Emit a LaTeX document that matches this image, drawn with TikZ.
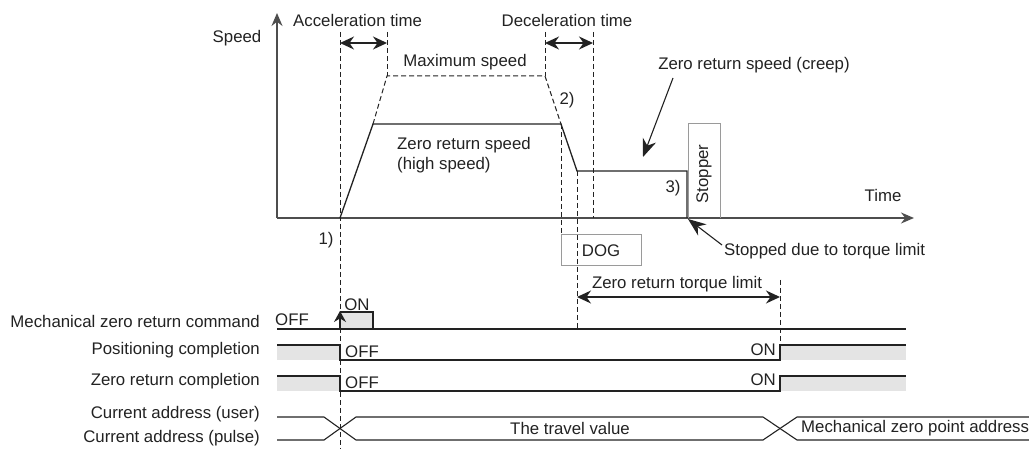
\documentclass[tikz,border=0pt]{standalone}
\usepackage{fontspec}
\setmainfont{Liberation Sans}
\usetikzlibrary{arrows.meta}
\definecolor{ink}{HTML}{222222}
\definecolor{boxgray}{HTML}{9A9A9A}
\definecolor{fillgray}{HTML}{E4E4E4}
\begin{document}
\begin{tikzpicture}[x=1pt,y=-1pt,
  lbl/.style={font=\fontsize{16.8}{20.5}\selectfont, text=ink, inner sep=0pt},
  sig/.style={draw=ink, line width=1.3pt},
  axisline/.style={draw=ink!80, line width=1.3pt, -{Stealth[length=13pt,width=11pt]}},
  guide/.style={draw=ink, dash pattern=on 5pt off 3pt, line width=1pt},
  dim/.style={draw=ink, line width=1.3pt, {Stealth[length=14pt,width=13pt]}-{Stealth[length=14pt,width=13pt]}},
  pointer/.style={draw=ink, line width=1.1pt, -{Stealth[length=18pt,width=14pt]}},
  gbox/.style={draw=boxgray, line width=1pt},
  gfill/.style={fill=fillgray},
]
\useasboundingbox (0,0) rectangle (1029,449);

% ---------- axes ----------
\coordinate (O) at (277,218);
\coordinate (Ytip) at (277,13);
\coordinate (Xtip) at (914,218);
\draw[axisline] (O) -- (Ytip);
\draw[axisline] (O) -- (Xtip);
\node[lbl] (speed) at (237,38) {Speed};
\node[lbl] (time) at (883,195) {Time};

% ---------- guide lines ----------
\coordinate (a1t) at (340,32);  \coordinate (a1b) at (340,449);
\coordinate (a2t) at (387,32);  \coordinate (a2b) at (387,76);
\coordinate (d1t) at (545,32);  \coordinate (d1b) at (545,76);
\coordinate (d2t) at (593,32);  \coordinate (d2b) at (593,218);
\coordinate (h2) at (561,124);  \coordinate (h2b) at (561,235);
\coordinate (c1) at (577,171);  \coordinate (c1b) at (577,329);
\coordinate (z1) at (780,280);  \coordinate (z1b) at (780,360);
\draw[guide] (a1t) -- (a1b);
\draw[guide] (a2t) -- (a2b);
\draw[guide] (d1t) -- (d1b);
\draw[guide] (d2t) -- (d2b);
\draw[guide] (h2) -- (h2b);
\draw[guide] (c1) -- (c1b);
\draw[guide] (z1) -- (z1b);

% ---------- time spans ----------
\node[lbl, anchor=west] (acct) at (293,20) {Acceleration time};
\node[lbl] (dect) at (567,20) {Deceleration time};
\coordinate (acc1) at (340,43); \coordinate (acc2) at (387,43);
\coordinate (dec1) at (545,43); \coordinate (dec2) at (593,43);
\draw[dim] (acc1) -- (acc2);
\draw[dim] (dec1) -- (dec2);

% ---------- maximum speed (dashed) ----------
\coordinate (m0) at (373,124);
\draw[guide] (m0) -- (a2b) -- (d1b) -- (h2);
\node[lbl] (maxs) at (465,62) {Maximum speed};

% ---------- speed profile ----------
\coordinate (p0) at (340,218);
\coordinate (p3) at (687,171);
\coordinate (p4) at (687,218);
\draw[sig] (p0) -- (m0) -- (h2) -- (c1) -- (p3) -- (p4);
\node[lbl, anchor=west, align=left] (hs) at (397,155) {Zero return speed\\(high speed)};
\node[lbl] (n1) at (326,240) {1)};
\node[lbl] (n2) at (567,100) {2)};
\node[lbl] (n3) at (673,188) {3)};

% ---------- DOG and stopper ----------
\node[gbox, lbl, minimum width=80pt, minimum height=31pt] (dog) at (601,250.5) {DOG};
\draw[gbox] (688,218) -- (688,124) -- (720,124) -- (720,218);
\node[lbl, rotate=90] (stopper) at (704,174) {Stopper};

% ---------- callouts ----------
\node[lbl] (creep) at (754,65) {Zero return speed (creep)};
\coordinate (creeptail) at (673,78);
\coordinate (creeptip) at (643,157);
\draw[pointer] (creeptail) -- (creeptip);
\node[lbl, anchor=west] (stopped) at (724,251) {Stopped due to torque limit};
\coordinate (stoptail) at (722,245);
\coordinate (stoptip) at (688,219);
\draw[pointer] (stoptail) -- (stoptip);

% ---------- torque limit ----------
\coordinate (tl1) at (577,297); \coordinate (tl2) at (780,297);
\draw[dim] (tl1) -- (tl2);
\node[lbl] (tlt) at (677,284) {Zero return torque limit};

% ---------- timing labels ----------
\node[lbl, anchor=east] (l1) at (260,321) {Mechanical zero return command};
\node[lbl, anchor=east] (l2) at (260,350) {Positioning completion};
\node[lbl, anchor=east] (l3) at (260,381) {Zero return completion};
\node[lbl, anchor=east] (l4) at (260,414) {Current address (user)};
\node[lbl, anchor=east] (l5) at (260,438) {Current address (pulse)};

% ---------- mechanical zero return command ----------
\fill[gfill] (340,312) rectangle (373,329);
\draw[sig] (277,329) -- (906,329);
\draw[sig] (340,312) -- (373,312) -- (373,329);
\coordinate (cmdb) at (340,329); \coordinate (cmdt) at (340,311);
\draw[sig, -{Stealth[length=11pt,width=12pt]}] (cmdb) -- (cmdt);
\node[lbl] (off1) at (292,320) {OFF};
\node[lbl] (on1) at (357,305) {ON};

% ---------- positioning completion ----------
\fill[gfill] (277,345) rectangle (340,360);
\fill[gfill] (780,345) rectangle (906,360);
\draw[sig] (277,345) -- (340,345) -- (340,360) -- (780,360) -- (780,345) -- (906,345);
\node[lbl, anchor=west] (off2) at (345,352) {OFF};
\node[lbl, anchor=east] (on2) at (776,350) {ON};

% ---------- zero return completion ----------
\fill[gfill] (277,376) rectangle (340,391);
\fill[gfill] (780,376) rectangle (906,391);
\draw[sig] (277,376) -- (340,376) -- (340,391) -- (780,391) -- (780,376) -- (906,376);
\node[lbl, anchor=west] (off3) at (345,383) {OFF};
\node[lbl, anchor=east] (on3) at (776,380) {ON};

% ---------- current address bus ----------
\draw[sig, line width=1.1pt] (277,417) -- (324,417) -- (356,440) -- (763,440) -- (797,417) -- (1029,417);
\draw[sig, line width=1.1pt] (277,440) -- (324,440) -- (356,417) -- (763,417) -- (797,440) -- (1029,440);
\node[lbl] (travel) at (570,428) {The travel value};
\node[lbl, anchor=west] (mzp) at (801,428) {Mechanical zero point address};
\end{tikzpicture}
\end{document}
